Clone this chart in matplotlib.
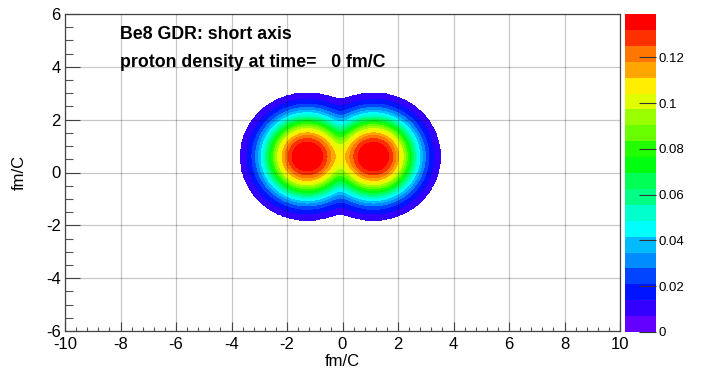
import numpy as np
import matplotlib
matplotlib.use("Agg")
import matplotlib.pyplot as plt
from matplotlib.colors import ListedColormap, BoundaryNorm
from matplotlib.ticker import MultipleLocator
import colorsys

# ---------------- data ----------------
title_lines = ["Be8 GDR: short axis", "proton density at time=   0 fm/C"]
x_label = "fm/C"
y_label = "fm/C"
x_ticks = [-10, -8, -6, -4, -2, 0, 2, 4, 6, 8, 10]
y_ticks = [-6, -4, -2, 0, 2, 4, 6]
cbar_ticks = [0, 0.02, 0.04, 0.06, 0.08, 0.1, 0.12]
cbar_ticklabels = ["0", "0.02", "0.04", "0.06", "0.08", "0.1", "0.12"]
z_max = 0.139
n_levels = 20

# proton density: two alpha-like clusters with Fermi-shaped profiles
cluster_x = [-1.27, 1.12]
cluster_y = [0.6, 0.6]
cluster_rho0 = [0.15, 0.15]
cluster_R = [1.3, 1.3]
cluster_a = [0.38, 0.38]
combine_power = 3.0
density_floor = 0.0075

# ---------------- field ----------------
gx = np.linspace(-10, 10, 801)
gy = np.linspace(-6, 6, 481)
X, Y = np.meshgrid(gx, gy)
acc = np.zeros_like(X)
for cx, cy, r0, R, a in zip(cluster_x, cluster_y, cluster_rho0, cluster_R, cluster_a):
    r = np.hypot(X - cx, Y - cy)
    g = r0 / (1.0 + np.exp((r - R) / a))
    acc += g ** combine_power
rho = acc ** (1.0 / combine_power)
rho = np.minimum(rho, z_max * 0.9999)
rho = np.where(rho < density_floor, np.nan, rho)

# ROOT "pretty" palette (HLS hue 280 -> 0), sampled like ROOT does for 20 contours
n_pal = 50
cols = []
for j in range(n_levels):
    idx = int((j + 0.99) * n_pal / n_levels)
    hue = 0.0 if idx >= n_pal - 1 else 280.0 - (idx + 1) * 280.0 / n_pal
    cols.append(colorsys.hls_to_rgb(hue / 360.0, 0.5, 1.0))
cmap = ListedColormap(cols)
levels = np.linspace(0, z_max, n_levels + 1)
norm = BoundaryNorm(levels, cmap.N)

# ---------------- figure ----------------
plt.rcParams['font.family'] = ['Liberation Sans', 'DejaVu Sans']
fig = plt.figure(figsize=(7.22, 3.69), dpi=100)
W, H = 722, 369
ax = fig.add_axes([65 / W, (H - 331) / H, (620 - 65) / W, (331 - 14) / H])
cax = fig.add_axes([625 / W, (H - 332) / H, 31 / W, (332 - 14) / H])

cs = ax.contourf(X, Y, rho, levels=levels, cmap=cmap, norm=norm, zorder=1)

ax.set_xlim(-10, 10)
ax.set_ylim(-6, 6)
ax.set_xticks(x_ticks)
ax.set_yticks(y_ticks)
ax.xaxis.set_minor_locator(MultipleLocator(0.4))
ax.yaxis.set_minor_locator(MultipleLocator(0.5))
ax.set_xticklabels([str(t) for t in x_ticks])
ax.set_yticklabels([str(t) for t in y_ticks])
ax.tick_params(axis='x', which='major', direction='in', length=6.3, width=0.8,
               color='#555555', labelsize=12, pad=4, top=False)
ax.tick_params(axis='x', which='minor', direction='in', length=3.2, width=0.8,
               color='#555555', top=False)
ax.tick_params(axis='y', which='major', direction='in', length=11, width=0.8,
               color='#555555', labelsize=12, pad=3, right=False)
ax.tick_params(axis='y', which='minor', direction='in', length=5.5, width=0.8,
               color='#555555', right=False)
for t in x_ticks:
    ax.axvline(t, color='k', alpha=0.22, linewidth=0.9, zorder=3)
for t in y_ticks:
    ax.axhline(t, color='k', alpha=0.22, linewidth=0.9, zorder=3)
for s in ax.spines.values():
    s.set_color('#444444')
    s.set_linewidth(0.9)
    s.set_zorder(4)

ax.set_xlabel(x_label, fontsize=12, labelpad=1.5)
ax.set_ylabel(y_label, fontsize=12, labelpad=14)

ax.text(-8.0, 5.04, title_lines[0], fontsize=12.8, fontweight='bold',
        va='baseline', ha='left', zorder=5)
ax.text(-8.0, 4.0, title_lines[1], fontsize=12.8, fontweight='bold',
        va='baseline', ha='left', zorder=5)

cb = fig.colorbar(cs, cax=cax)
cb.outline.set_visible(False)
cb.set_ticks(cbar_ticks)
cb.set_ticklabels(cbar_ticklabels)
cax.yaxis.set_ticks_position('right')
cax.tick_params(direction='in', length=12, width=0.8, color='#333333',
                labelsize=9.5, pad=2)
cax.minorticks_off()

fig.savefig("out.png", dpi=100)
